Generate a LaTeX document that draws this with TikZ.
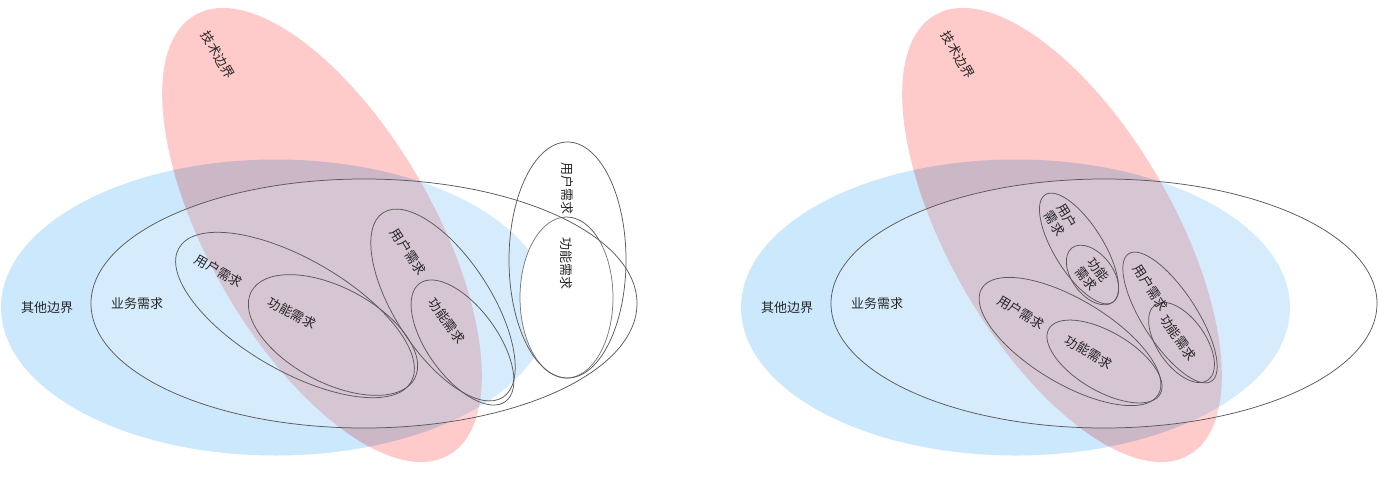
\documentclass[tikz,border=0pt]{standalone}
\usepackage{fontspec}
\newfontfamily\cjk{Noto Sans CJK SC}
\usetikzlibrary{calc,shapes.geometric}

\definecolor{skyfill}{RGB}{204,232,252}
\definecolor{rosefill}{RGB}{255,202,202}
\definecolor{rimgray}{RGB}{90,90,90}

\begin{document}
\begin{tikzpicture}[x=1pt, y=-1pt,
	area/.style={ellipse, inner sep=0, outer sep=0},
	req/.style={ellipse, draw=rimgray, line width=0.75pt, inner sep=0, outer sep=0},
	lbl/.style={font=\cjk\fontsize{13}{15}\selectfont, text=black!85, inner sep=0, anchor=west, align=center}]
	\useasboundingbox (0,0) rectangle (1378,477);
	% boundaries
	\node [area, fill=skyfill, minimum width=549pt, minimum height=296pt] (oth1) at (275.5,307.5) {};
	\node [area, fill=skyfill, minimum width=549pt, minimum height=296pt] (oth2) at ($(oth1)+(740,0)$) {};
	\begin{scope}[blend mode=multiply]
		\node [area, fill=rosefill, minimum width=508pt, minimum height=224pt, rotate=-60] (tech1) at (322,235) {};
		\node [area, fill=rosefill, minimum width=508pt, minimum height=224pt, rotate=-60] (tech2) at ($(tech1)+(740,0)$) {};
	\end{scope}
	\node [req, fill=white, minimum width=161pt, minimum height=93pt, rotate=-90] (fun1c) at (566.5,297.5) {};
	\node [req, fill=white, fill opacity=0.2, minimum width=546pt, minimum height=249pt] (biz1) at (364,303.5) {};
	\node [req, fill=white, fill opacity=0.2, minimum width=546pt, minimum height=249pt] (biz2) at ($(biz1)+(740,0)$) {};
	% left: requirements
	\node [req, minimum width=268pt, minimum height=112pt, rotate=-30] (usr1a) at (295,315) {};
	\node [req, minimum width=185pt, minimum height=95pt, rotate=-28] (fun1a) at (333,335) {};
	\node [req, minimum width=220pt, minimum height=96pt, rotate=-57] (usr1b) at (443,305) {};
	\node [req, minimum width=146pt, minimum height=70pt, rotate=-54] (fun1b) at (462.5,342.5) {};
	\node [req, minimum width=236pt, minimum height=117pt, rotate=-90] (usr1c) at (567.5,260) {};
	% right: requirements
	\node [req, minimum width=127pt, minimum height=49pt, rotate=-58] (usr2a) at (1079,248.5) {};
	\node [req, minimum width=68pt, minimum height=41pt, rotate=-53] (fun2a) at (1092.5,275) {};
	\node [req, minimum width=206pt, minimum height=84pt, rotate=-31] (usr2b) at (1070,341.5) {};
	\node [req, minimum width=129pt, minimum height=59pt, rotate=-30.5] (fun2b) at (1104.5,361.5) {};
	\node [req, minimum width=152pt, minimum height=54pt, rotate=-57] (usr2c) at (1170,317.5) {};
	\node [req, minimum width=92pt, minimum height=48pt, rotate=-55] (fun2c) at (1181.5,342.5) {};
	% labels
	\node [lbl] (toth1) at ($(oth1.west)!20pt!(oth1.east)$) {其他边界};
	\node [lbl] (toth2) at ($(oth2.west)!20pt!(oth2.east)$) {其他边界};
	\node [lbl] (tbiz1) at ($(biz1.west)!20pt!(biz1.east)$) {业务需求};
	\node [lbl] (tbiz2) at ($(biz2.west)!20pt!(biz2.east)$) {业务需求};
	\node [lbl, rotate=-60] (ttech1) at ($(tech1.west)!20pt!(tech1.east)$) {技术边界};
	\node [lbl, rotate=-60] (ttech2) at ($(tech2.west)!20pt!(tech2.east)$) {技术边界};
	\node [lbl, rotate=-30] (tusr1a) at ($(usr1a.west)!20pt!(usr1a.east)$) {用户需求};
	\node [lbl, rotate=-28] (tfun1a) at ($(fun1a.west)!20pt!(fun1a.east)$) {功能需求};
	\node [lbl, rotate=-57] (tusr1b) at ($(usr1b.west)!20pt!(usr1b.east)$) {用户需求};
	\node [lbl, rotate=-54] (tfun1b) at ($(fun1b.west)!20pt!(fun1b.east)$) {功能需求};
	\node [lbl, rotate=-90] (tusr1c) at ($(usr1c.west)!20pt!(usr1c.east)$) {用户需求};
	\node [lbl, rotate=-90] (tfun1c) at ($(fun1c.west)!20pt!(fun1c.east)$) {功能需求};
	\node [lbl, rotate=-58] (tusr2a) at ($(usr2a.west)!16pt!(usr2a.east)$) {用户\\需求};
	\node [lbl, rotate=-53] (tfun2a) at ($(fun2a.west)!20pt!(fun2a.east)$) {功能\\需求};
	\node [lbl, rotate=-31] (tusr2b) at ($(usr2b.west)!20pt!(usr2b.east)$) {用户需求};
	\node [lbl, rotate=-30.5] (tfun2b) at ($(fun2b.west)!20pt!(fun2b.east)$) {功能需求};
	\node [lbl, rotate=-57] (tusr2c) at ($(usr2c.west)!14pt!(usr2c.east)$) {用户需求};
	\node [lbl, rotate=-55] (tfun2c) at ($(fun2c.west)!14pt!(fun2c.east)$) {功能需求};
\end{tikzpicture}
\end{document}
